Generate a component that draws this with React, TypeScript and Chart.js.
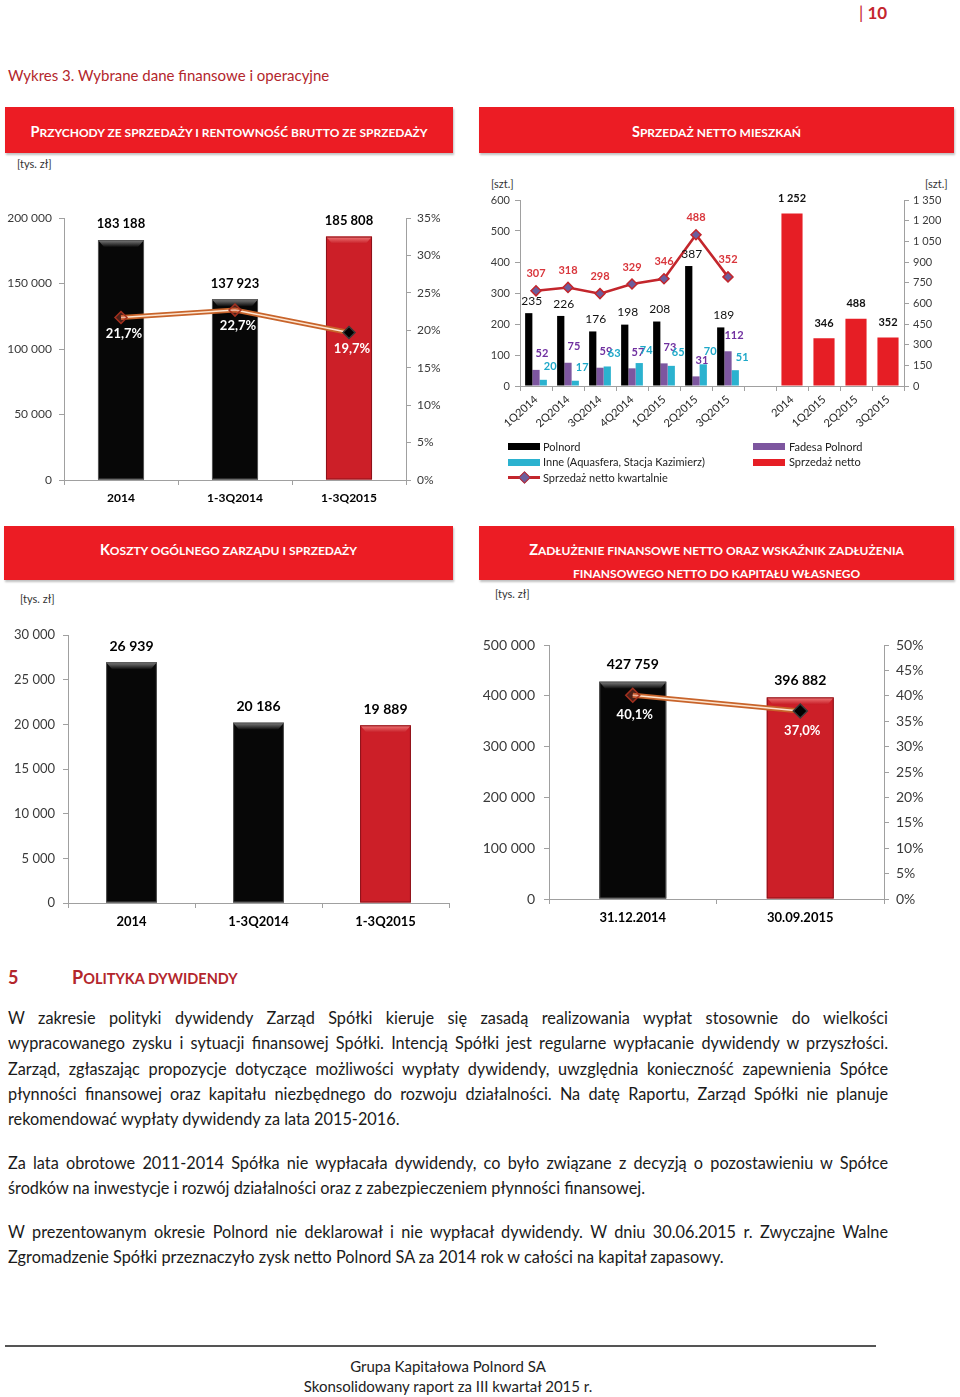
import React, { useEffect, useRef } from 'react';
import { Chart, registerables } from 'chart.js';

Chart.register(...registerables);

const FONT = 'Lato, "Open Sans", "DejaVu Sans", sans-serif';
const AXIS = '#a0a0a0';
const TICK = '#3a3a3a';
const RED = '#ec1c24';
const DARK_RED = '#b3262c';

// ---------- Chart 1: Przychody ze sprzedaży i rentowność brutto ----------
const revenueCategories = ['2014', '1-3Q2014', '1-3Q2015'];
const revenueValues = [183188, 137923, 185808];
const grossMarginValues = [21.7, 22.7, 19.7];
const revenueTicks = [0, 50000, 100000, 150000, 200000];
const marginTicks = [0, 5, 10, 15, 20, 25, 30, 35];

// ---------- Chart 2: Sprzedaż netto mieszkań ----------
const salesCategories = ['1Q2014', '2Q2014', '3Q2014', '4Q2014', '1Q2015', '2Q2015', '3Q2015', '', '2014', '1Q2015', '2Q2015', '3Q2015'];
const polnordValues = [235, 226, 176, 198, 208, 387, 189, null, null, null, null, null];
const fadesaValues = [52, 75, 59, 57, 73, 31, 112, null, null, null, null, null];
const inneValues = [20, 17, 63, 74, 65, 70, 51, null, null, null, null, null];
const quarterlySalesValues = [307, 318, 298, 329, 346, 488, 352, null, null, null, null, null];
const netSalesValues = [null, null, null, null, null, null, null, null, 1252, 346, 488, 352];
const unitsLeftTicks = [0, 100, 200, 300, 400, 500, 600];
const unitsRightTicks = [0, 150, 300, 450, 600, 750, 900, 1050, 1200, 1350];

// ---------- Chart 3: Koszty ogólnego zarządu i sprzedaży ----------
const costCategories = ['2014', '1-3Q2014', '1-3Q2015'];
const costValues = [26939, 20186, 19889];
const costTicks = [0, 5000, 10000, 15000, 20000, 25000, 30000];

// ---------- Chart 4: Zadłużenie finansowe netto ----------
const debtCategories = ['31.12.2014', '30.09.2015'];
const debtValues = [427759, 396882];
const debtRatioValues = [40.1, 37.0];
const debtTicks = [0, 100000, 200000, 300000, 400000, 500000];
const ratioTicks = [0, 5, 10, 15, 20, 25, 30, 35, 40, 45, 50];

// ---------- Text ----------
const paragraph1 = [
  'W zakresie polityki dywidendy Zarząd Spółki kieruje się zasadą realizowania wypłat stosownie do wielkości',
  'wypracowanego zysku i sytuacji finansowej Spółki. Intencją Spółki jest regularne wypłacanie dywidendy w przyszłości.',
  'Zarząd, zgłaszając propozycje dotyczące możliwości wypłaty dywidendy, uwzględnia konieczność zapewnienia Spółce',
  'płynności finansowej oraz kapitału niezbędnego do rozwoju działalności. Na datę Raportu, Zarząd Spółki nie planuje',
  'rekomendować wypłaty dywidendy za lata 2015-2016.',
];
const paragraph2 = [
  'Za lata obrotowe 2011-2014 Spółka nie wypłacała dywidendy, co było związane z decyzją o pozostawieniu w Spółce',
  'środków na inwestycje i rozwój działalności oraz z zabezpieczeniem płynności finansowej.',
];
const paragraph3 = [
  'W prezentowanym okresie Polnord nie deklarował i nie wypłacał dywidendy. W dniu 30.06.2015 r. Zwyczajne Walne',
  'Zgromadzenie Spółki przeznaczyło zysk netto Polnord SA za 2014 rok w całości na kapitał zapasowy.',
];

const fmtThousands = (v: number) => String(Math.round(v)).replace(/\B(?=(\d{3})+(?!\d))/g, '\u00a0');
const fmtPct1 = (v: number) => v.toFixed(1).replace('.', ',') + '%';
const fmtPct0 = (v: number) => `${v}%`;
const fmtInt = (v: number) => String(v);

const bevelPlugin = {
  id: 'bevel',
  afterDatasetDraw(chart: any, args: any) {
    const ds: any = chart.data.datasets[args.index];
    if (!ds.bevel) return;
    const ctx = chart.ctx;
    args.meta.data.forEach((el: any, j: number) => {
      if (ds.data[j] == null) return;
      const { x, y, base, width } = el.getProps(['x', 'y', 'base', 'width'], true);
      const theme = ds.bevel[j];
      const l = x - width / 2;
      const r = x + width / 2;
      const light = theme === 'red' ? '#f07a7a' : '#808080';
      const mid = theme === 'red' ? '#c81e27' : '#0a0a0a';
      const edge = theme === 'red' ? '#8c1219' : '#555555';
      ctx.save();
      const g = ctx.createLinearGradient(0, y, 0, y + 7);
      g.addColorStop(0, light);
      g.addColorStop(1, mid);
      ctx.beginPath();
      ctx.moveTo(l, y);
      ctx.lineTo(r, y);
      ctx.lineTo(r - 6, y + 7);
      ctx.lineTo(l + 6, y + 7);
      ctx.closePath();
      ctx.fillStyle = g;
      ctx.fill();
      ctx.strokeStyle = edge;
      ctx.lineWidth = 1;
      ctx.strokeRect(l + 0.5, y + 0.5, width - 1, base - y - 1);
      ctx.restore();
    });
  },
};

const labelPlugin = {
  id: 'valueLabels',
  afterDatasetsDraw(chart: any) {
    const ctx = chart.ctx;
    chart.data.datasets.forEach((ds: any, i: number) => {
      const L = ds.lbl;
      if (!L) return;
      const meta = chart.getDatasetMeta(i);
      meta.data.forEach((el: any, j: number) => {
        const v = ds.data[j];
        if (v === null || v === undefined) return;
        ctx.save();
        ctx.font = L.font;
        ctx.fillStyle = L.color;
        ctx.textAlign = 'center';
        ctx.textBaseline = 'middle';
        ctx.fillText(L.fmt(v), el.x + (L.dx || 0), el.y + (L.dy || 0));
        ctx.restore();
      });
    });
  },
};

function valueAxis(ticks: number[], position: 'left' | 'right', width: number, fmt: (v: number) => string, size: number, padding: number) {
  return {
    type: 'linear',
    position,
    min: ticks[0],
    max: ticks[ticks.length - 1],
    afterBuildTicks: (s: any) => {
      s.ticks = ticks.map((v) => ({ value: v }));
    },
    afterFit: (s: any) => {
      s.width = width;
    },
    grid: { drawOnChartArea: false, drawTicks: true, tickLength: 5, color: AXIS },
    border: { display: true, color: AXIS, width: 1 },
    ticks: { callback: (v: any) => fmt(Number(v)), font: { family: FONT, size }, color: TICK, padding },
  };
}

function catAxis(height: number, size: number, bold: boolean, padding: number, rotation = 0) {
  return {
    type: 'category',
    offset: true,
    afterFit: (s: any) => {
      s.height = height;
    },
    grid: { offset: true, drawOnChartArea: false, drawTicks: true, tickLength: 5, color: AXIS },
    border: { display: true, color: AXIS },
    ticks: {
      font: { family: FONT, size, weight: bold ? 'bold' : 'normal' },
      color: bold ? '#000' : '#222',
      padding,
      maxRotation: rotation,
      minRotation: rotation,
      autoSkip: false,
    },
  };
}

const baseOptions = (padTop: number, padRight = 0) => ({
  responsive: false,
  animation: false,
  layout: { padding: { top: padTop, right: padRight, left: 0, bottom: 0 } },
  plugins: { legend: { display: false }, tooltip: { enabled: false } },
});

function makeRevenue(): any {
  return {
    type: 'bar',
    data: {
      labels: revenueCategories,
      datasets: [
        {
          type: 'line',
          data: grossMarginValues,
          yAxisID: 'y2',
          order: 0,
          borderColor: '#fde6d2',
          borderWidth: 1.5,
          pointStyle: 'rectRot',
          pointRadius: 6,
          pointBorderWidth: 1.5,
          pointBackgroundColor: ['rgba(200,80,60,0.35)', 'rgba(200,80,60,0.35)', '#000'],
          pointBorderColor: ['#a3301f', '#a3301f', '#3a3a3a'],
          lbl: { font: `bold 13px ${FONT}`, color: '#fff', dx: 3, dy: 16, fmt: fmtPct1 },
        },
        { type: 'line', data: grossMarginValues, yAxisID: 'y2', order: 1, borderColor: '#c8642b', borderWidth: 5, pointRadius: 0 },
        {
          type: 'bar',
          data: revenueValues,
          yAxisID: 'y',
          order: 2,
          backgroundColor: ['#070707', '#070707', '#cc1f28'],
          categoryPercentage: 1,
          barPercentage: 0.404,
          bevel: ['dark', 'dark', 'red'],
          lbl: { font: `bold 13px ${FONT}`, color: '#000', dy: -16, fmt: fmtThousands },
        },
      ],
    },
    options: {
      ...baseOptions(28),
      scales: {
        x: catAxis(30, 12, true, 6),
        y: valueAxis(revenueTicks, 'left', 64, fmtThousands, 12, 7),
        y2: valueAxis(marginTicks, 'right', 64, fmtPct0, 12, 6),
      },
    },
    plugins: [bevelPlugin, labelPlugin],
  };
}

function makeSales(): any {
  const barCommon = { yAxisID: 'y', order: 1, skipNull: true, categoryPercentage: 0.68, barPercentage: 1 };
  return {
    type: 'bar',
    data: {
      labels: salesCategories,
      datasets: [
        {
          type: 'line',
          label: 'Sprzedaż netto kwartalnie',
          data: quarterlySalesValues,
          yAxisID: 'y',
          order: 0,
          borderColor: '#c3262c',
          borderWidth: 2.5,
          pointStyle: 'rectRot',
          pointRadius: 5,
          pointBackgroundColor: '#6b5e9c',
          pointBorderColor: '#c3262c',
          pointBorderWidth: 1.5,
          spanGaps: false,
          lbl: { font: `bold 11px ${FONT}`, color: '#d9363c', dy: -17, fmt: fmtInt },
        },
        { ...barCommon, label: 'Polnord', data: polnordValues, backgroundColor: '#000', lbl: { font: `12px ${FONT}`, color: '#111', dx: 3, dy: -12, fmt: fmtInt } },
        { ...barCommon, label: 'Fadesa Polnord', data: fadesaValues, backgroundColor: '#7d569f', lbl: { font: `bold 11px ${FONT}`, color: '#7030a0', dx: 6, dy: -16, fmt: fmtInt } },
        { ...barCommon, label: 'Inne (Aquasfera, Stacja Kazimierz)', data: inneValues, backgroundColor: '#2bb2cf', lbl: { font: `bold 11px ${FONT}`, color: '#1ea8c8', dx: 7, dy: -13, fmt: fmtInt } },
        { ...barCommon, yAxisID: 'y2', label: 'Sprzedaż netto', data: netSalesValues, backgroundColor: '#e61e25', categoryPercentage: 0.66, lbl: { font: `bold 11px ${FONT}`, color: '#111', dy: -15, fmt: fmtThousands } },
      ],
    },
    options: {
      ...baseOptions(20),
      scales: {
        x: catAxis(64, 11, false, 2, 42),
        y: valueAxis(unitsLeftTicks, 'left', 50, fmtInt, 11, 5),
        y2: valueAxis(unitsRightTicks, 'right', 56, fmtThousands, 11, 4),
      },
    },
    plugins: [labelPlugin],
  };
}

function makeCosts(): any {
  return {
    type: 'bar',
    data: {
      labels: costCategories,
      datasets: [
        {
          data: costValues,
          yAxisID: 'y',
          backgroundColor: ['#070707', '#070707', '#cc1f28'],
          categoryPercentage: 1,
          barPercentage: 0.4,
          bevel: ['dark', 'dark', 'red'],
          lbl: { font: `bold 14px ${FONT}`, color: '#000', dy: -16, fmt: fmtThousands },
        },
      ],
    },
    options: {
      ...baseOptions(35, 21),
      scales: {
        x: catAxis(37, 13, true, 6),
        y: valueAxis(costTicks, 'left', 68, fmtThousands, 13, 8),
      },
    },
    plugins: [bevelPlugin, labelPlugin],
  };
}

function makeDebt(): any {
  return {
    type: 'bar',
    data: {
      labels: debtCategories,
      datasets: [
        {
          type: 'line',
          data: debtRatioValues,
          yAxisID: 'y2',
          order: 0,
          borderColor: '#fde6d2',
          borderWidth: 1.5,
          pointStyle: 'rectRot',
          pointRadius: 7,
          pointBorderWidth: 1.5,
          pointBackgroundColor: ['rgba(200,80,60,0.35)', '#000'],
          pointBorderColor: ['#a3301f', '#3a3a3a'],
          lbl: { font: `bold 13px ${FONT}`, color: '#fff', dx: 2, dy: 20, fmt: fmtPct1 },
        },
        { type: 'line', data: debtRatioValues, yAxisID: 'y2', order: 1, borderColor: '#c8642b', borderWidth: 5, pointRadius: 0 },
        {
          type: 'bar',
          data: debtValues,
          yAxisID: 'y',
          order: 2,
          backgroundColor: ['#070707', '#cc1f28'],
          categoryPercentage: 1,
          barPercentage: 0.4,
          bevel: ['dark', 'red'],
          lbl: { font: `bold 14px ${FONT}`, color: '#000', dy: -17, fmt: fmtThousands },
        },
      ],
    },
    options: {
      ...baseOptions(45),
      scales: {
        x: catAxis(41, 13, true, 6),
        y: valueAxis(debtTicks, 'left', 71, fmtThousands, 14, 9),
        y2: valueAxis(ratioTicks, 'right', 76, fmtPct0, 14, 7),
      },
    },
    plugins: [bevelPlugin, labelPlugin],
  };
}

function ChartBox({ left, top, width, height, make }: { left: number; top: number; width: number; height: number; make: () => any }) {
  const ref = useRef<HTMLCanvasElement>(null);
  useEffect(() => {
    const chart = new Chart(ref.current as HTMLCanvasElement, make());
    return () => chart.destroy();
  }, []);
  return <canvas ref={ref} width={width} height={height} style={{ position: 'absolute', left, top, width, height }} />;
}

function T({ x, y, size = 12, children, style }: { x: number; y: number; size?: number; children: any; style?: any }) {
  return (
    <div style={{ position: 'absolute', left: x, top: y - size * 0.65, fontSize: size, lineHeight: `${size * 1.3}px`, whiteSpace: 'nowrap', ...style }}>
      {children}
    </div>
  );
}

function SmallCaps({ text, big, small }: { text: string; big: number; small: number }) {
  return (
    <>
      {Array.from(text).map((ch, i) => {
        const upper = ch !== ch.toLowerCase();
        return (
          <span key={i} style={{ fontSize: upper ? big : small }}>
            {ch.toUpperCase()}
          </span>
        );
      })}
    </>
  );
}

function HeaderBox({ x, y, w, h, lines, padTop }: { x: number; y: number; w: number; h: number; lines: string[]; padTop: number }) {
  return (
    <div
      style={{
        position: 'absolute',
        left: x,
        top: y,
        width: w,
        height: h,
        background: RED,
        boxShadow: '1px 2px 2px rgba(0,0,0,0.25)',
        color: '#fff',
        fontWeight: 'bold',
        textAlign: 'center',
        paddingTop: padTop,
        boxSizing: 'border-box',
      }}
    >
      {lines.map((l, i) => (
        <div key={i} style={{ whiteSpace: 'nowrap', height: 23, lineHeight: '23px', overflow: 'visible' }}>
          <SmallCaps text={l} big={14.5} small={12} />
        </div>
      ))}
    </div>
  );
}

function Swatch({ x, y, w, h, color }: { x: number; y: number; w: number; h: number; color: string }) {
  return <div style={{ position: 'absolute', left: x, top: y, width: w, height: h, background: color }} />;
}

function Para({ lines, startY }: { lines: string[]; startY: number }) {
  return (
    <>
      {lines.map((l, i) => {
        const last = i === lines.length - 1;
        return (
          <div
            key={i}
            style={{
              position: 'absolute',
              left: 8,
              top: startY + i * 25.3 - 13,
              width: 880,
              height: 26,
              fontSize: 16.3,
              lineHeight: '26px',
              color: '#1a1a1a',
              textAlign: last ? 'left' : 'justify',
              textAlignLast: last ? 'left' : 'justify',
              overflow: 'visible',
            }}
          >
            {l}
          </div>
        );
      })}
    </>
  );
}

export default function App() {
  return (
    <div style={{ position: 'absolute', left: 0, top: 0, width: 960, height: 1397, background: '#fff', fontFamily: FONT, overflow: 'hidden' }}>
      {/* page number */}
      <T x={859} y={13} size={17} style={{ color: '#c4262e', fontWeight: 'bold' }}>
        <span style={{ fontWeight: 'normal' }}>|</span> 10
      </T>
      <T x={8} y={76} size={15} style={{ color: DARK_RED }}>
        Wykres 3. Wybrane dane finansowe i operacyjne
      </T>

      <HeaderBox x={5} y={107} w={448} h={46} lines={['Przychody ze sprzedaży i rentowność brutto ze sprzedaży']} padTop={12} />
      <HeaderBox x={479} y={107} w={475} h={46} lines={['Sprzedaż netto mieszkań']} padTop={12} />
      <HeaderBox x={4} y={526} w={449} h={54} lines={['Koszty ogólnego zarządu i sprzedaży']} padTop={11} />
      <HeaderBox x={479} y={526} w={475} h={54} lines={['Zadłużenie finansowe netto oraz wskaźnik zadłużenia', 'finansowego netto do kapitału własnego']} padTop={11} />

      <T x={17} y={164} size={11} style={{ color: '#333' }}>[tys. zł]</T>
      <T x={20} y={599} size={11} style={{ color: '#333' }}>[tys. zł]</T>
      <T x={495} y={594} size={11} style={{ color: '#333' }}>[tys. zł]</T>
      <T x={491} y={184} size={11} style={{ color: '#333' }}>[szt.]</T>
      <T x={925} y={184} size={11} style={{ color: '#333' }}>[szt.]</T>

      <ChartBox left={0} top={190} width={470} height={320} make={makeRevenue} />
      <ChartBox left={470} top={180} width={490} height={270} make={makeSales} />
      <ChartBox left={0} top={600} width={470} height={340} make={makeCosts} />
      <ChartBox left={478} top={600} width={482} height={340} make={makeDebt} />

      {/* legend of chart 2 */}
      <Swatch x={508} y={443} w={32} h={7} color="#000" />
      <T x={543} y={447} size={11} style={{ color: '#222' }}>Polnord</T>
      <Swatch x={508} y={459} w={32} h={7} color="#2bb2cf" />
      <T x={543} y={462} size={11} style={{ color: '#222' }}>Inne (Aquasfera, Stacja Kazimierz)</T>
      <Swatch x={508} y={476} w={32} h={3} color="#c3262c" />
      <div style={{ position: 'absolute', left: 520, top: 473, width: 7, height: 7, background: '#6b5e9c', border: '1.5px solid #c3262c', transform: 'rotate(45deg)' }} />
      <T x={543} y={478} size={11} style={{ color: '#222' }}>Sprzedaż netto kwartalnie</T>
      <Swatch x={753} y={443} w={32} h={7} color="#7d569f" />
      <T x={789} y={447} size={11} style={{ color: '#222' }}>Fadesa Polnord</T>
      <Swatch x={753} y={459} w={32} h={7} color="#e61e25" />
      <T x={789} y={462} size={11} style={{ color: '#222' }}>Sprzedaż netto</T>

      {/* section 5 */}
      <T x={8} y={978} size={18} style={{ color: DARK_RED, fontWeight: 'bold' }}>5</T>
      <T x={72} y={978} size={18} style={{ color: DARK_RED, fontWeight: 'bold' }}>
        <SmallCaps text="Polityka dywidendy" big={18} small={14.5} />
      </T>

      <Para lines={paragraph1} startY={1018} />
      <Para lines={paragraph2} startY={1163} />
      <Para lines={paragraph3} startY={1232} />

      {/* footer */}
      <div style={{ position: 'absolute', left: 5, top: 1345, width: 871, height: 2, background: '#555' }} />
      <T x={0} y={1367} size={15} style={{ width: 896, textAlign: 'center', color: '#222' }}>Grupa Kapitałowa Polnord SA</T>
      <T x={0} y={1387} size={15} style={{ width: 896, textAlign: 'center', color: '#222' }}>Skonsolidowany raport za III kwartał 2015 r.</T>
    </div>
  );
}
